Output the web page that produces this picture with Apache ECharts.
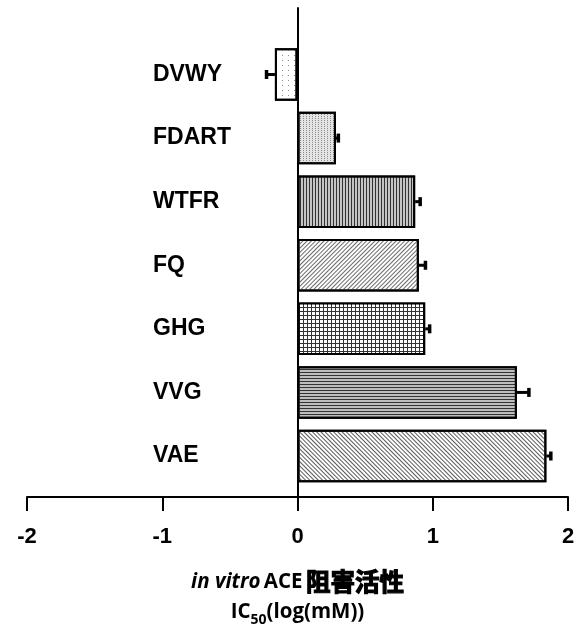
<!DOCTYPE html>
<html>
<head>
<meta charset="utf-8">
<script src="https://cdn.jsdelivr.net/npm/echarts@6/dist/echarts.min.js"></script>
<style>html,body{margin:0;padding:0;background:#fff;}#main{width:578px;height:632px;}</style>
</head>
<body>
<div id="main"></div>
<script>
var categories = ['DVWY', 'FDART', 'WTFR', 'FQ', 'GHG', 'VVG', 'VAE'];
var values = [-0.167, 0.284, 0.870, 0.897, 0.944, 1.622, 1.840];
var errors = [0.062, 0.018, 0.037, 0.049, 0.033, 0.089, 0.033];
var xTicks = [-2, -1, 0, 1, 2];

var patterns = [
  { color: '#ffffff', decal: { symbol: 'rect', symbolSize: 1, dashArrayX: [1, 5], dashArrayY: [1, 4], color: '#8a8a8a' } },
  { color: '#e4e4e4', decal: { symbol: 'rect', symbolSize: 1, dashArrayX: [1, 2], dashArrayY: [1, 1], color: '#8a8a8a' } },
  { color: '#c4c4c4', decal: { symbol: 'rect', symbolSize: 1, dashArrayX: [1, 2], dashArrayY: [1, 0], color: '#333333' } },
  { color: '#ffffff', decal: { symbol: 'rect', symbolSize: 1, dashArrayX: [1, 0], dashArrayY: [1, 2], rotation: -Math.PI / 4, color: '#6a6a6a' } },
  { color: '#333333', decal: { symbol: 'rect', symbolSize: 1, dashArrayX: [3, 1], dashArrayY: [3, 1], color: '#ffffff' } },
  { color: '#bdbdbd', decal: { symbol: 'rect', symbolSize: 1, dashArrayX: [1, 0], dashArrayY: [1, 2], color: '#333333' } },
  { color: '#ffffff', decal: { symbol: 'rect', symbolSize: 1, dashArrayX: [1, 0], dashArrayY: [1, 2], rotation: Math.PI / 4, color: '#5a5a5a' } }
];

var chart = echarts.init(document.getElementById('main'), null, { renderer: 'canvas' });

var barData = values.map(function (v, i) {
  return { value: v, itemStyle: Object.assign({ borderColor: '#000', borderWidth: 2 }, patterns[i]) };
});
var errData = values.map(function (v, i) { return [v, categories[i], errors[i]]; });

var option = {
  animation: false,
  backgroundColor: '#ffffff',
  grid: [
    { left: 27, right: 10, top: 8, bottom: 135, containLabel: false, outerBoundsMode: 'none' },
    { left: 27, right: 10, top: 42.7, bottom: 144.2, containLabel: false, outerBoundsMode: 'none' }
  ],
  xAxis: [
    {
      gridIndex: 0, type: 'value', min: xTicks[0], max: xTicks[xTicks.length - 1], interval: 1,
      axisLine: { show: true, onZero: false, lineStyle: { color: '#000', width: 2 } },
      axisTick: { show: true, inside: false, length: 14, lineStyle: { color: '#000', width: 2 } },
      splitLine: { show: false },
      axisLabel: { margin: 29, fontFamily: 'Liberation Sans', fontWeight: 'bold', fontSize: 22, color: '#000' },
      name: '{i|in vitro} {b|ACE} {c|阻害活性}\n{b|IC}{s|50}{b|(log(mM))}',
      nameLocation: 'middle',
      nameGap: 70,
      nameTextStyle: {
        color: '#000',
        align: 'center',
        lineHeight: 30,
        rich: {
          i: { fontFamily: 'Open Sans', fontStyle: 'italic', fontWeight: 'bold', fontSize: 20.5, color: '#000', lineHeight: 30 },
          b: { fontFamily: 'Open Sans', fontWeight: 'bold', fontSize: 20.5, color: '#000', lineHeight: 30 },
          c: { fontFamily: 'Noto Sans CJK JP', fontWeight: 'bold', fontSize: 24.5, color: '#000', lineHeight: 30, textBorderColor: '#000', textBorderWidth: 1.2 },
          s: { fontFamily: 'Open Sans', fontWeight: 'bold', fontSize: 14, color: '#000', lineHeight: 21, verticalAlign: 'bottom' }
        }
      }
    },
    {
      gridIndex: 1, type: 'value', min: xTicks[0], max: xTicks[xTicks.length - 1], interval: 1, show: false
    }
  ],
  yAxis: [
    {
      gridIndex: 0, type: 'value', min: 0, max: 1,
      axisLine: { show: true, onZero: true, lineStyle: { color: '#000', width: 2 } },
      axisTick: { show: false }, axisLabel: { show: false }, splitLine: { show: false }
    },
    {
      gridIndex: 1, type: 'category', data: categories, inverse: true,
      axisLine: { show: false, onZero: false },
      axisTick: { show: false },
      splitLine: { show: false },
      axisLabel: { margin: -126, align: 'left', padding: [0, 0, 7, 0], fontFamily: 'Liberation Sans', fontWeight: 'bold', fontSize: 23, color: '#000' }
    }
  ],
  series: [
    {
      type: 'bar', xAxisIndex: 1, yAxisIndex: 1, barWidth: '82.5%',
      data: barData, z: 2
    },
    {
      type: 'custom', xAxisIndex: 1, yAxisIndex: 1, z: 3,
      encode: { x: 0, y: 1 },
      data: errData,
      renderItem: function (params, api) {
        var v = api.value(0), idx = api.value(1), e = api.value(2);
        var end = v >= 0 ? v + e : v - e;
        var p0 = api.coord([v, idx]);
        var p1 = api.coord([end, idx]);
        return {
          type: 'group',
          children: [
            { type: 'line', shape: { x1: p0[0], y1: p0[1], x2: p1[0], y2: p1[1] }, style: { stroke: '#000', lineWidth: 3 } },
            { type: 'line', shape: { x1: p1[0], y1: p1[1] - 4.5, x2: p1[0], y2: p1[1] + 4.5 }, style: { stroke: '#000', lineWidth: 3.5 } }
          ]
        };
      }
    }
  ]
};
chart.setOption(option);
</script>
</body>
</html>
